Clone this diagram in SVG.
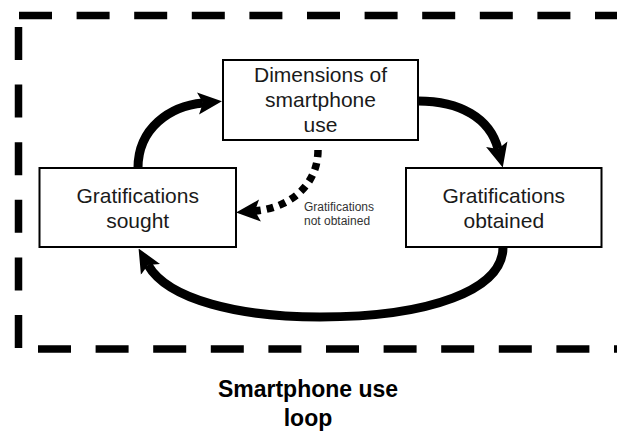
<svg xmlns="http://www.w3.org/2000/svg" width="617" height="435" viewBox="0 0 617 435">
  <style>
    .frame { fill: none; stroke: #000; stroke-width: 7.5; stroke-dasharray: 33 24.6; }
    .box { fill: #fff; stroke: #000; stroke-width: 2; }
    .label { font-family: "Liberation Sans", Arial, sans-serif; font-size: 21px; fill: #1a1a1a; text-anchor: middle; }
    .note { font-family: "Liberation Sans", Arial, sans-serif; font-size: 12px; fill: #333; }
    .title { font-family: "Liberation Sans", Arial, sans-serif; font-size: 23px; font-weight: bold; fill: #000; text-anchor: middle; }
    .flow { fill: none; stroke: #000; stroke-width: 9; marker-end: url(#head); }
    .dotted { fill: none; stroke: #000; stroke-width: 7.5; stroke-dasharray: 7 6; marker-end: url(#head); }
  </style>
  <defs>
    <marker id="head" viewBox="0 0 24 24" refX="5" refY="12" markerWidth="24" markerHeight="24" markerUnits="userSpaceOnUse" orient="auto">
      <path d="M0,1 L24,12 L0,23 L5,12 Z" fill="#000"/>
    </marker>
  </defs>

  <!-- dashed frame: top, left, bottom -->
  <g id="frame">
    <line class="frame" x1="19" y1="15.5" x2="617" y2="15.5"/>
    <line class="frame" x1="18.5" y1="27" x2="18.5" y2="350"/>
    <line class="frame" x1="38" y1="349" x2="617" y2="349"/>
  </g>

  <g id="connectors">
    <path class="flow" d="M138,168 C138,128 170,106 203,103"/>
    <path class="flow" d="M418,101 C460,101 490,118 498,149"/>
    <path class="flow" d="M503,247 C503,290 430,317 320,317 C240,317 168,300 148,265"/>
    <path class="dotted" d="M318,150 C318,185 290,208 255,211"/>
  </g>

  <g id="dimensions">
    <rect class="box" x="223" y="60" width="195" height="80"/>
    <text class="label" x="320.5" y="82">Dimensions of</text>
    <text class="label" x="320.5" y="107">smartphone</text>
    <text class="label" x="320.5" y="132">use</text>
  </g>

  <g id="sought">
    <rect class="box" x="39.5" y="168" width="196.5" height="79"/>
    <text class="label" x="137.7" y="203">Gratifications</text>
    <text class="label" x="137.7" y="228">sought</text>
  </g>

  <g id="obtained">
    <rect class="box" x="406" y="168" width="195.5" height="79"/>
    <text class="label" x="503.8" y="203">Gratifications</text>
    <text class="label" x="503.8" y="228">obtained</text>
  </g>

  <g id="not-obtained">
    <text class="note" x="304" y="211">Gratifications</text>
    <text class="note" x="304" y="225">not obtained</text>
  </g>

  <g id="title">
    <text class="title" x="308" y="397">Smartphone use</text>
    <text class="title" x="308" y="426">loop</text>
  </g>
</svg>
